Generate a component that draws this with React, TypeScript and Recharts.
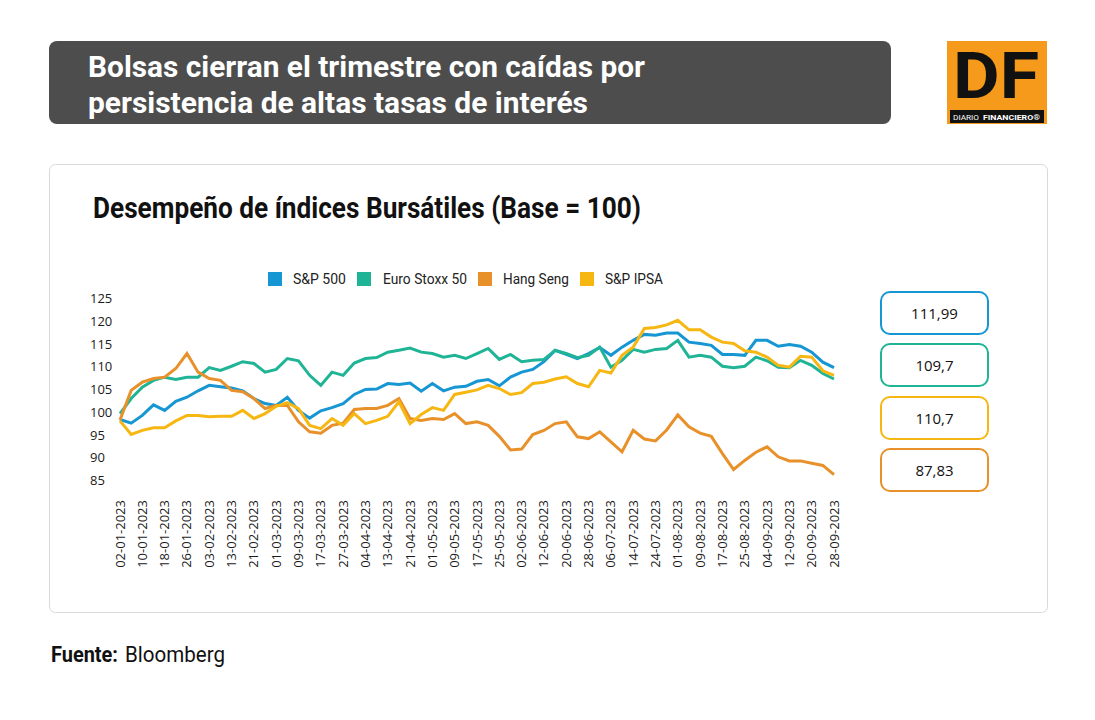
import React from "react";
import { LineChart, Line, XAxis, YAxis } from "recharts";

// one point every 3 trading days, labels every 6
const dates = [
  "02-01-2023", "05-01-2023", "10-01-2023", "13-01-2023", "18-01-2023", "23-01-2023", "26-01-2023", "31-01-2023",
  "03-02-2023", "08-02-2023", "13-02-2023", "16-02-2023", "21-02-2023", "24-02-2023", "01-03-2023", "06-03-2023",
  "09-03-2023", "14-03-2023", "17-03-2023", "22-03-2023", "27-03-2023", "30-03-2023", "04-04-2023", "10-04-2023",
  "13-04-2023", "18-04-2023", "21-04-2023", "26-04-2023", "01-05-2023", "04-05-2023", "09-05-2023", "12-05-2023",
  "17-05-2023", "22-05-2023", "25-05-2023", "30-05-2023", "02-06-2023", "07-06-2023", "12-06-2023", "15-06-2023",
  "20-06-2023", "23-06-2023", "28-06-2023", "03-07-2023", "06-07-2023", "11-07-2023", "14-07-2023", "19-07-2023",
  "24-07-2023", "27-07-2023", "01-08-2023", "04-08-2023", "09-08-2023", "14-08-2023", "17-08-2023", "22-08-2023",
  "25-08-2023", "30-08-2023", "04-09-2023", "07-09-2023", "12-09-2023", "15-09-2023", "20-09-2023", "25-09-2023",
  "28-09-2023",
];

const sp500 = [
  98.3, 97.5, 99.2, 101.5, 100.3, 102.3, 103.2, 104.6, 105.8, 105.5, 105.2, 104.6, 102.9, 101.8, 101.4, 103.2,
  100.3, 98.6, 100.2, 100.9, 101.8, 103.8, 104.9, 105.0, 106.2, 106.0, 106.3, 104.5, 106.2, 104.6, 105.4, 105.6,
  106.7, 107.1, 105.7, 107.6, 108.7, 109.3, 111.0, 113.5, 112.6, 111.7, 112.8, 114.1, 112.4, 114.2, 115.7, 117.0,
  116.8, 117.3, 117.3, 115.3, 115.0, 114.6, 112.6, 112.6, 112.4, 115.7, 115.7, 114.4, 114.8, 114.4, 113.1, 110.9,
  109.7,
];

const euroStoxx = [
  99.6, 102.9, 105.4, 106.9, 107.6, 107.1, 107.6, 107.6, 109.7, 109.1, 110.0, 111.0, 110.6, 108.7, 109.3, 111.7,
  111.2, 108.0, 105.8, 108.7, 108.0, 110.7, 111.7, 111.9, 113.1, 113.5, 114.0, 113.1, 112.8, 112.0, 112.4, 111.7,
  112.8, 113.9, 111.5, 112.6, 111.0, 111.3, 111.5, 113.5, 112.8, 111.9, 112.4, 114.2, 109.8, 111.3, 113.7, 113.1,
  113.7, 113.9, 115.7, 112.0, 112.4, 112.0, 110.0, 109.7, 110.0, 112.0, 111.2, 109.8, 109.7, 111.3, 110.2, 108.4,
  107.2,
];

const hangSeng = [
  98.2, 104.7, 106.5, 107.3, 107.6, 109.5, 112.8, 108.7, 107.3, 106.9, 104.7, 104.4, 102.9, 100.7, 101.4, 101.4,
  97.8, 95.6, 95.3, 97.0, 97.5, 100.5, 100.7, 100.7, 101.4, 102.9, 98.5, 98.1, 98.5, 98.3, 99.6, 97.4,
  97.8, 97.0, 94.6, 91.6, 91.8, 95.0, 95.9, 97.4, 97.8, 94.5, 94.1, 95.6, 93.4, 91.2, 95.9, 94.0,
  93.6, 96.0, 99.3, 96.7, 95.3, 94.6, 90.8, 87.3, 89.3, 91.1, 92.3, 90.1, 89.2, 89.2, 88.7, 88.2,
  86.2,
];

const ipsa = [
  98.0, 95.0, 95.9, 96.5, 96.5, 98.0, 99.2, 99.2, 98.9, 99.0, 99.0, 100.3, 98.5, 99.6, 101.2, 102.0,
  100.7, 97.0, 96.3, 98.5, 97.0, 99.6, 97.4, 98.1, 99.0, 102.2, 97.4, 99.4, 100.9, 100.3, 103.8, 104.3,
  104.8, 105.8, 105.1, 103.8, 104.2, 106.2, 106.5, 107.2, 107.7, 106.2, 105.5, 109.1, 108.5, 112.4, 114.2, 118.3,
  118.5, 119.1, 120.1, 118.0, 118.0, 116.4, 115.3, 115.0, 113.4, 113.1, 112.0, 110.2, 109.8, 112.2, 112.0, 109.0,
  108.0,
];

const yTicks = [85, 90, 95, 100, 105, 110, 115, 120, 125];

const seriesNames = ["S&P 500", "Euro Stoxx 50", "Hang Seng", "S&P IPSA"];
const seriesKeys = ["sp500", "euro", "hang", "ipsa"];
const seriesColors = ["#1696d2", "#20b497", "#e8912b", "#f7b712"];

const boxValues = ["111,99", "109,7", "110,7", "87,83"];
const boxColors = ["#1696d2", "#20b497", "#f7b712", "#e8912b"];

const data = dates.map((date, i) => ({
  date,
  sp500: sp500[i],
  euro: euroStoxx[i],
  hang: hangSeng[i],
  ipsa: ipsa[i],
}));

const axisFont = "'Open Sans', sans-serif";
const headFont = "Roboto, sans-serif";

function YTick({ y, payload }: any) {
  return (
    <text x={90} y={y + 5} fontFamily={axisFont} fontSize={13} fill="#1a1a1a">
      {payload.value}
    </text>
  );
}

function XTick({ x, payload }: any) {
  return (
    <text
      transform={`translate(${x + 4.5}, 500) rotate(-90)`}
      textAnchor="end"
      fontFamily={axisFont}
      fontSize={13}
      fill="#1a1a1a"
    >
      {payload.value}
    </text>
  );
}

// legend layout (left of square, left of text, text width)
const legendPos = [
  [268, 293, 53],
  [357, 383, 84],
  [478, 503, 66],
  [580, 605, 58],
];

function Background() {
  return (
    <svg width={1095} height={720} style={{ position: "absolute", left: 0, top: 0 }}>
      <rect x={49} y={41} width={842} height={83} rx={8} fill="#4d4d4d" />
      <text x={88} y={77} fontFamily={headFont} fontWeight={700} fontSize={30} fill="#fff"
        textLength={557} lengthAdjust="spacingAndGlyphs">
        Bolsas cierran el trimestre con caídas por
      </text>
      <text x={88} y={112.5} fontFamily={headFont} fontWeight={700} fontSize={30} fill="#fff"
        textLength={500} lengthAdjust="spacingAndGlyphs">
        persistencia de altas tasas de interés
      </text>

      {/* logo */}
      <rect x={947} y={41} width={100} height={83} fill="#f59a1b" />
      <text x={953} y={98} fontFamily={headFont} fontWeight={700} fontSize={64} fill="#111"
        textLength={86} lengthAdjust="spacingAndGlyphs">
        DF
      </text>
      <rect x={950} y={110} width={94} height={13} fill="#111" />
      <text x={953} y={120} fontFamily={headFont} fontSize={7.5} fill="#fff" textLength={26}
        lengthAdjust="spacingAndGlyphs">
        DIARIO
      </text>
      <text x={983} y={120} fontFamily={headFont} fontWeight={700} fontSize={7.5} fill="#fff" textLength={57}
        lengthAdjust="spacingAndGlyphs">
        FINANCIERO®
      </text>

      {/* card */}
      <rect x={49.5} y={164.5} width={998} height={448} rx={6} fill="#fff" stroke="#d9d9d9" />
      <text x={93} y={218} fontFamily={headFont} fontWeight={700} fontSize={29} fill="#111"
        textLength={548} lengthAdjust="spacingAndGlyphs">
        Desempeño de índices Bursátiles (Base = 100)
      </text>

      {seriesNames.map((name, i) => (
        <g key={name}>
          <rect x={legendPos[i][0]} y={272} width={14} height={14} fill={seriesColors[i]} />
          <text x={legendPos[i][1]} y={284} fontFamily={headFont} fontSize={15} fill="#222"
            textLength={legendPos[i][2]} lengthAdjust="spacingAndGlyphs">
            {name}
          </text>
        </g>
      ))}

      <text x={51} y={662} fontFamily={headFont} fontWeight={700} fontSize={22} fill="#111"
        textLength={67} lengthAdjust="spacingAndGlyphs">
        Fuente:
      </text>
      <text x={125} y={662} fontFamily={headFont} fontSize={22} fill="#111"
        textLength={100} lengthAdjust="spacingAndGlyphs">
        Bloomberg
      </text>
    </svg>
  );
}

export default function App() {
  return (
    <div style={{ position: "absolute", left: 0, top: 0, width: 1095, height: 720, background: "#fff", overflow: "hidden" }}>
      <Background />
      <div style={{ position: "absolute", left: 0, top: 0 }}>
        <LineChart width={870} height={600} data={data} margin={{ top: 298, right: 36, left: 90, bottom: 30 }}>
          <XAxis dataKey="date" interval={1} height={90} axisLine={false} tickLine={false} tick={<XTick />} />
          <YAxis width={30} domain={[85, 125]} ticks={yTicks} interval={0} axisLine={false} tickLine={false} tick={<YTick />} />
          {seriesKeys.map((k, i) => (
            <Line
              key={k}
              type="linear"
              dataKey={k}
              name={seriesNames[i]}
              stroke={seriesColors[i]}
              strokeWidth={3}
              dot={false}
              isAnimationActive={false}
            />
          ))}
        </LineChart>
      </div>
      {boxValues.map((v, i) => (
        <div
          key={v}
          style={{
            position: "absolute",
            left: 880,
            top: 291 + i * 52.3,
            width: 109,
            height: 44,
            boxSizing: "border-box",
            border: `2px solid ${boxColors[i]}`,
            borderRadius: 10,
            display: "flex",
            alignItems: "center",
            justifyContent: "center",
            fontFamily: axisFont,
            fontSize: 15,
            color: "#111",
          }}
        >
          {v}
        </div>
      ))}
    </div>
  );
}
